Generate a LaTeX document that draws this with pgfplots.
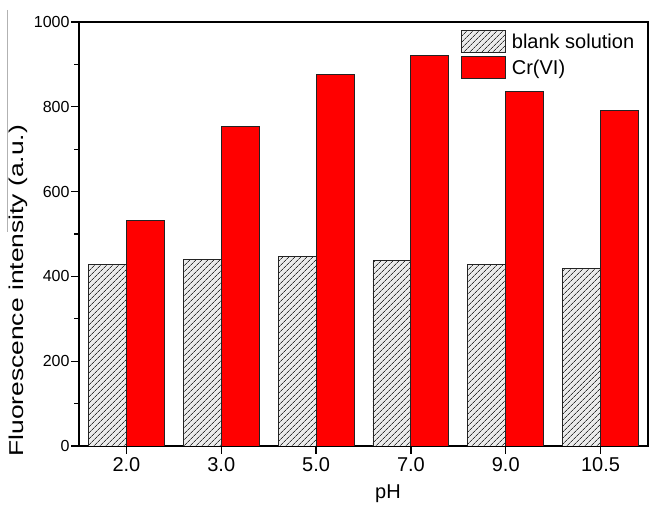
\documentclass[border=0pt]{standalone}
\usepackage{fontspec}
\setmainfont{Liberation Sans}
\usepackage{graphicx}
\usepackage{pgfplots}
\pgfplotsset{compat=1.18}
\usetikzlibrary{patterns.meta}
\definecolor{barred}{RGB}{255,0,0}
\definecolor{edge}{RGB}{35,35,35}
\definecolor{hatch}{RGB}{50,50,50}
\begin{document}
\begin{tikzpicture}[x=1pt,y=1pt]
\path[use as bounding box] (0,0) rectangle (649,506);
\draw[gray!60, line width=1pt] (7,496) -- (7,274);
\begin{axis}[
  at={(79pt,60pt)}, anchor=south west,
  scale only axis, width=569pt, height=424pt,
  xmin=-0.5, xmax=5.5, ymin=0, ymax=1000,
  xtick={0,1,2,3,4,5},
  xticklabels={2.0,3.0,5.0,7.0,9.0,10.5},
  ytick={0,200,400,600,800,1000},
  minor y tick num=1,
  tick align=outside, xtick pos=bottom, ytick pos=left,
  major tick length=8pt, minor tick length=4.5pt,
  axis line style={line width=1.3pt, black},
  tick style={line width=1.2pt, black},
  /pgf/number format/assume math mode=true,
  /pgf/number format/1000 sep={},
  yticklabel style={font=\fontsize{16}{18}\selectfont, xshift=2pt},
  xticklabel style={font=\fontsize{20}{22}\selectfont},
  every axis y label/.style={at={(axis description cs:-0.1072,0.366)}, rotate=90, anchor=center, font=\fontsize{20}{22}\selectfont},
  every axis x label/.style={at={(axis description cs:0.543,-0.113)}, anchor=center, font=\fontsize{20}{22}\selectfont},
  ylabel={\scalebox{1.32}[1.0]{Fluorescence intensity (a.u.)}},
  xlabel={pH},
  ybar=0pt, bar width=0.4,
  legend style={at={(axis description cs:0.671,0.981)}, anchor=north west, draw=none, fill=none, font=\fontsize{20}{22}\selectfont, row sep=3pt, inner sep=0pt, column sep=4pt},
  legend cell align=left,
  legend image code/.code={\draw[#1] (0pt,-11pt) rectangle (44pt,11pt);},
]
\addplot[bar shift=-0.2, draw=edge, line width=0.9pt, fill=white!92!black,
  postaction={pattern={Lines[angle=45,distance=4pt,line width=0.75pt]}, pattern color=hatch}]
  coordinates {(0,429) (1,439) (2,448) (3,437) (4,429) (5,419)};
\addlegendentry{blank solution}
\addplot[bar shift=0.2, draw=edge, line width=0.9pt, fill=barred]
  coordinates {(0,531) (1,754) (2,876) (3,921) (4,836) (5,792)};
\addlegendentry{Cr(VI)}
\end{axis}
\end{tikzpicture}
\end{document}
